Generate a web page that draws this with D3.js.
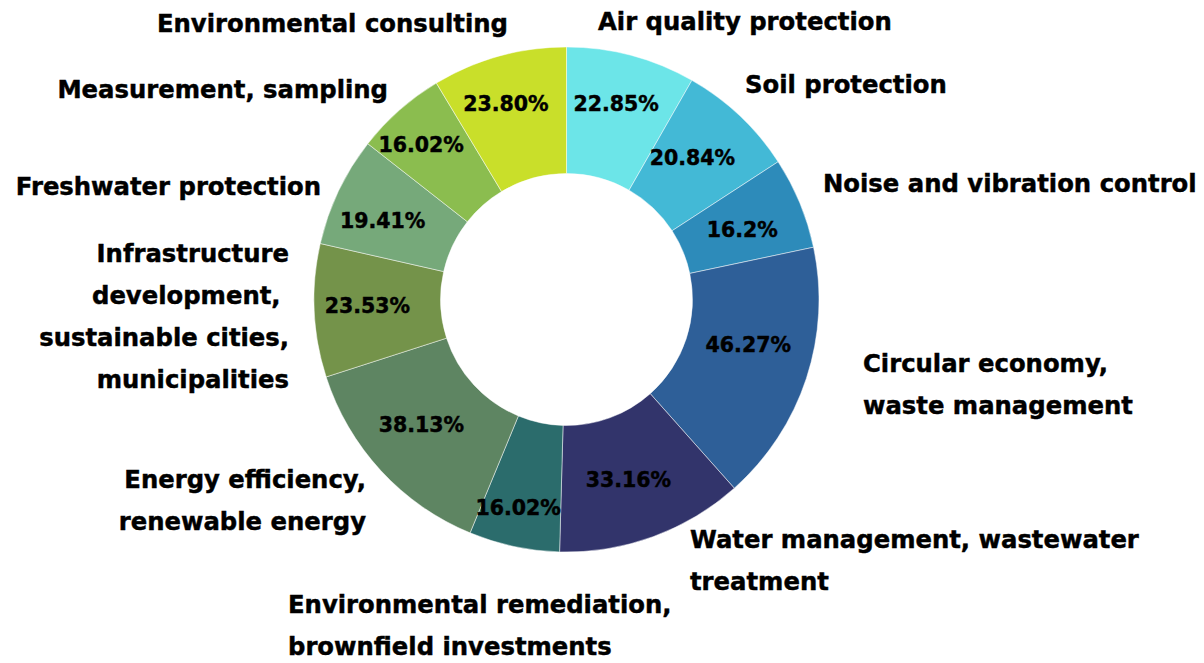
<!DOCTYPE html>
<html>
<head>
<meta charset="utf-8">
<script src="https://cdn.jsdelivr.net/npm/d3@7"></script>
<style>
    body { margin: 0; background: #fff; }
    text { font-family: "DejaVu Sans", Verdana, sans-serif; font-weight: bold; fill: #000;
        stroke: #000; stroke-width: 0.45px; white-space: pre; }
</style>
</head>
<body>
<div id="chart"></div>
<script>
const width = 1204;
const height = 663;

// categories, clockwise from 12 o'clock
const categories = [
    ['Air quality protection'],
    ['Soil protection'],
    ['Noise and vibration control'],
    ['Circular economy,', 'waste management'],
    ['Water management, wastewater', 'treatment'],
    ['Environmental remediation,', 'brownfield investments'],
    ['Energy efficiency,', 'renewable energy'],
    ['Infrastructure', 'development, ', 'sustainable cities,', 'municipalities'],
    ['Freshwater protection'],
    ['Measurement, sampling'],
    ['Environmental consulting']
];
const shares = [22.85, 20.84, 16.2, 46.27, 33.16, 16.02, 38.13, 23.53, 19.41, 16.02, 23.80];
const shareLabels = ['22.85%', '20.84%', '16.2%', '46.27%', '33.16%', '16.02%', '38.13%', '23.53%', '19.41%', '16.02%', '23.80%'];
const colors = ['#6ce5e8', '#43b9d6', '#2d8bba', '#2e5f98', '#32346b', '#2b6c6c',
    '#5e8562', '#74934a', '#76a97a', '#8bbd4f', '#c9df2a'];

// where the outside labels sit (anchor x, first baseline)
const labelSpots = [
    [598, 30, 'start'], [745, 93, 'start'], [823, 192, 'start'], [863, 372, 'start'],
    [690, 548, 'start'], [288, 613, 'start'], [366, 488, 'end'], [289, 262, 'end'],
    [321, 195, 'end'], [388, 98, 'end'], [508, 32, 'end']
];
// nudges of the percent labels off the centroid
const shareNudge = [
    [1, -13], [-4, -4], [1, 3], [2, -14], [-3, 2], [-9, 23],
    [-6, -3], [-10, -2], [-13, 2], [-20, -13], [-10, -14]
];
const lineGap = 42;

buildChart();

function buildChart() {
    const cx = 566.5;
    const cy = 299.5;
    const outerR = 252.5;
    const innerR = 126;

    const svg = d3.select('#chart')
        .append('svg')
        .attr('width', width)
        .attr('height', height);

    const pie = d3.pie().sort(null).value((d) => d);
    const arcs = pie(shares);

    const arc = d3.arc()
        .innerRadius(innerR)
        .outerRadius(outerR);

    const donut = svg.append('g')
        .attr('transform', `translate(${cx}, ${cy})`);

    donut.selectAll('path')
        .data(arcs)
        .enter()
        .append('path')
        .attr('d', arc)
        .attr('fill', (d, i) => colors[i])
        .attr('stroke', '#fff')
        .attr('stroke-width', 0.8)
        .attr('stroke-opacity', 0.6);

    // percent labels
    donut.selectAll('text.share')
        .data(arcs)
        .enter()
        .append('text')
        .attr('class', 'share')
        .attr('x', (d, i) => arc.centroid(d)[0] + shareNudge[i][0])
        .attr('y', (d, i) => arc.centroid(d)[1] + shareNudge[i][1])
        .attr('dy', '0.36em')
        .attr('text-anchor', 'middle')
        .attr('font-size', 20.5)
        .text((d, i) => shareLabels[i]);

    // category labels
    const cats = svg.selectAll('text.cat')
        .data(categories)
        .enter()
        .append('text')
        .attr('class', 'cat')
        .attr('font-size', 24.3)
        .attr('text-anchor', (d, i) => labelSpots[i][2]);

    cats.selectAll('tspan')
        .data((d, i) => d.map((line) => ({line, spot: labelSpots[i]})))
        .enter()
        .append('tspan')
        .attr('x', (d) => d.spot[0])
        .attr('y', (d, j) => d.spot[1] + j * lineGap)
        .text((d) => d.line);
}
</script>
</body>
</html>
